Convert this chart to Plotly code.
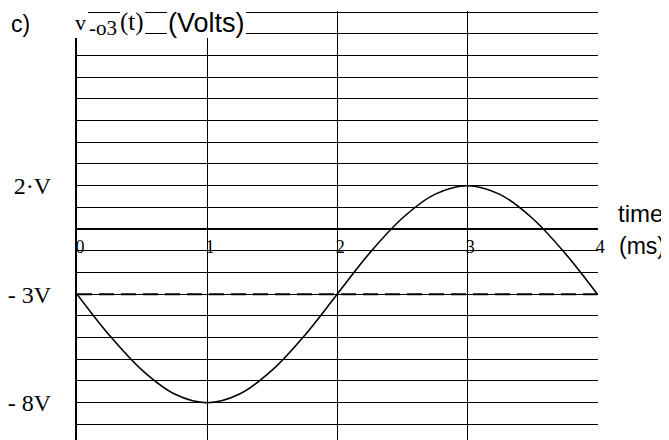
import plotly.graph_objects as go

# time (ms) and output voltage (V)
time_ms = [0, 0.25, 0.5, 0.75, 1, 1.25, 1.5, 1.75, 2, 2.25, 2.5, 2.75, 3, 3.25, 3.5, 3.75, 4]
v_o3 = [-3, -4.9, -6.5, -7.6, -8, -7.6, -6.5, -4.9, -3, -1.1, 0.5, 1.6, 2, 1.6, 0.5, -1.1, -3]

# dc level
dc_time = [0, 4]
dc_level = [-3, -3]

x_ticks = [0, 1, 2, 3, 4]
x_tick_text = ["0", "1", "2", "3", "4"]
y_ticks = [2, -3, -8]
y_tick_text = ["2\u00b7V", "- 3V", "- 8V"]

# the page body has an 8px margin, so the figure sits at (8, 8)
OFF = 8
W, H = 661, 432
L, R, T, B = 69, 71, 3, 0
Y_MIN, Y_MAX = -9.72, 10.05
SERIF = "Liberation Serif"
SANS = "Liberation Sans"


def px(x):
    # screen pixel -> paper fraction
    return (x - OFF - L) / (W - L - R)


def py(y):
    return (H - B - (y - OFF)) / (H - T - B)


fig = go.Figure()

fig.add_trace(
    go.Scatter(
        x=dc_time,
        y=dc_level,
        mode="lines",
        line=dict(color="black", width=2, dash="15px,7px"),
        showlegend=False,
    )
)

fig.add_trace(
    go.Scatter(
        x=time_ms,
        y=v_o3,
        mode="lines",
        line=dict(color="black", width=1.6, shape="spline"),
        showlegend=False,
    )
)

# white boxes behind the title pieces (they hide the grid there)
for x0, x1, y0, y1 in [(70, 88, 0, 38), (88, 120, 15, 38), (120, 145, 0, 38), (167, 246, 0, 38)]:
    fig.add_shape(
        type="rect",
        xref="paper",
        yref="paper",
        x0=px(x0),
        x1=px(x1),
        y0=py(y1),
        y1=py(y0),
        fillcolor="white",
        line=dict(width=0),
        layer="above",
    )

labels = [
    ("v", SERIF, 22, 80, 22),
    ("-o3", SERIF, 21, 103, 28),
    ("(t)", SERIF, 25, 132, 22),
    ("(Volts)", SANS, 27, 206, 23),
    ("c)", SANS, 23, 20, 24),
    ("time", SANS, 24, 640, 214),
    ("(ms)", SANS, 23, 642, 246),
]
for text, fam, size, x, y in labels:
    fig.add_annotation(
        text=text,
        xref="paper",
        yref="paper",
        x=px(x),
        y=py(y),
        xanchor="center",
        yanchor="middle",
        showarrow=False,
        font=dict(family=fam, size=size, color="black"),
    )

fig.update_layout(
    width=W,
    height=H,
    margin=dict(l=L, r=R, t=T, b=B),
    paper_bgcolor="white",
    plot_bgcolor="white",
    showlegend=False,
)

fig.update_xaxes(
    range=[0, 4.005],
    tickvals=x_ticks,
    ticktext=x_tick_text,
    showgrid=True,
    gridcolor="black",
    gridwidth=1,
    zeroline=False,
    showline=False,
    ticks="",
    anchor="free",
    position=(0 - Y_MIN) / (Y_MAX - Y_MIN),
    ticklabelshift=3,
    ticklabelstandoff=5,
    tickfont=dict(family=SERIF, size=18, color="black"),
)

fig.update_yaxes(
    range=[Y_MIN, Y_MAX],
    tickvals=y_ticks,
    ticktext=y_tick_text,
    showgrid=True,
    gridcolor="black",
    gridwidth=1,
    minor=dict(dtick=1, tick0=0, showgrid=True, gridcolor="black", gridwidth=1),
    zeroline=True,
    zerolinecolor="black",
    zerolinewidth=2,
    showline=True,
    linecolor="black",
    linewidth=2,
    ticks="",
    ticklabelstandoff=19,
    tickfont=dict(family=SERIF, size=24, color="black"),
)

fig.write_html("out.html")
